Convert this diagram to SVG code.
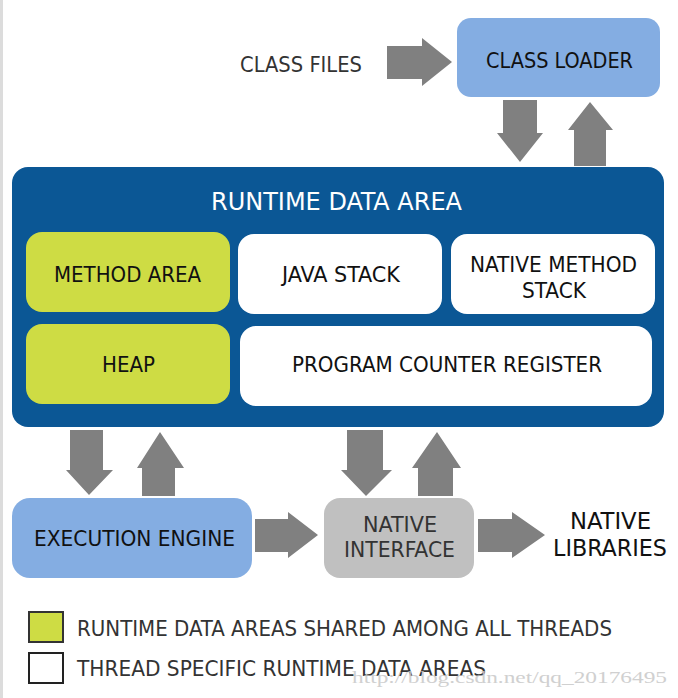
<svg xmlns="http://www.w3.org/2000/svg" width="678" height="698" viewBox="0 0 678 698">
<style>
text{font-family:"DejaVu Sans Condensed","DejaVu Sans",sans-serif;fill:#111}
.m{text-anchor:middle}
.arrow{fill:#808080}
</style>
<rect x="0" y="0" width="678" height="698" fill="#fff"/>
<rect x="0" y="0" width="3" height="698" fill="#dcdcdc"/>
<g id="connectors">
<polygon class="arrow" points="387,46 422,46 422,38 452,62 422,86 422,79 387,79"/>
<polygon class="arrow" points="503,100 537,100 537,133 543,133 520,162 497,133 503,133"/>
<polygon class="arrow" points="574,166 606,166 606,130 613,130 590,102 568,130 574,130"/>
<polygon class="arrow" points="70,430 103,430 103,470 113,470 89,495 66,470 70,470"/>
<polygon class="arrow" points="142,496 175,496 175,468 184,468 160,432 137,468 142,468"/>
<polygon class="arrow" points="347,430 383,430 383,470 392,470 366,496 341,470 347,470"/>
<polygon class="arrow" points="418,496 453,496 453,468 461,468 437,432 412,468 418,468"/>
<polygon class="arrow" points="255,519 288,519 288,512 318,535 288,558 288,552 255,552"/>
<polygon class="arrow" points="478,519 512,519 512,512 545,535 512,558 512,552 478,552"/>
</g>
<g id="class-files"><text class="m" x="301" y="72" font-size="21" fill="#333" textLength="122" lengthAdjust="spacingAndGlyphs" style="fill:#333">CLASS FILES</text></g>
<g id="class-loader">
<rect x="457" y="18" width="203" height="79" rx="14" fill="#84ade2"/>
<text class="m" x="559.5" y="68" font-size="21" textLength="147" lengthAdjust="spacingAndGlyphs">CLASS LOADER</text>
</g>
<g id="runtime-data-area">
<rect x="12" y="167" width="652" height="260" rx="16" fill="#0b5795"/>
<text class="m" x="336.5" y="210" font-size="25" textLength="251" lengthAdjust="spacingAndGlyphs" style="fill:#fff">RUNTIME DATA AREA</text>
</g>
<g id="method-area">
<rect x="26" y="232" width="204" height="80" rx="16" fill="#cedc44"/>
<text class="m" x="127.5" y="282" font-size="21" textLength="147" lengthAdjust="spacingAndGlyphs">METHOD AREA</text>
</g>
<g id="java-stack">
<rect x="238" y="234" width="204" height="80" rx="16" fill="#fff"/>
<text class="m" x="341" y="282" font-size="21" textLength="118" lengthAdjust="spacingAndGlyphs">JAVA STACK</text>
</g>
<g id="native-method-stack">
<rect x="451" y="234" width="204" height="80" rx="16" fill="#fff"/>
<text class="m" x="553.5" y="272" font-size="21" textLength="167" lengthAdjust="spacingAndGlyphs">NATIVE METHOD</text>
<text class="m" x="554" y="298" font-size="21" textLength="64" lengthAdjust="spacingAndGlyphs">STACK</text>
</g>
<g id="heap">
<rect x="26" y="324" width="204" height="80" rx="16" fill="#cedc44"/>
<text class="m" x="128.5" y="372" font-size="21" textLength="53" lengthAdjust="spacingAndGlyphs">HEAP</text>
</g>
<g id="program-counter-register">
<rect x="240" y="326" width="412" height="80" rx="16" fill="#fff"/>
<text class="m" x="447" y="372" font-size="21" textLength="310" lengthAdjust="spacingAndGlyphs">PROGRAM COUNTER REGISTER</text>
</g>
<g id="execution-engine">
<rect x="12" y="498" width="240" height="80" rx="18" fill="#84ade2"/>
<text class="m" x="134.5" y="546" font-size="21" textLength="201" lengthAdjust="spacingAndGlyphs">EXECUTION ENGINE</text>
</g>
<g id="native-interface">
<rect x="324" y="498" width="150" height="80" rx="16" fill="#c0c0c0"/>
<text class="m" x="400" y="532" font-size="21" textLength="74" lengthAdjust="spacingAndGlyphs" style="fill:#333">NATIVE</text>
<text class="m" x="399.5" y="557" font-size="21" textLength="111" lengthAdjust="spacingAndGlyphs" style="fill:#333">INTERFACE</text>
</g>
<g id="native-libraries">
<text class="m" x="610.5" y="529" font-size="23" textLength="81" lengthAdjust="spacingAndGlyphs">NATIVE</text>
<text class="m" x="610" y="556" font-size="23" textLength="114" lengthAdjust="spacingAndGlyphs">LIBRARIES</text>
</g>
<g id="legend">
<rect x="29" y="612" width="34" height="30" fill="#cedc44" stroke="#333" stroke-width="2"/>
<text x="77" y="636" font-size="21" textLength="535" lengthAdjust="spacingAndGlyphs" style="fill:#333">RUNTIME DATA AREAS SHARED AMONG ALL THREADS</text>
<rect x="29" y="653" width="34" height="30" fill="#fff" stroke="#222" stroke-width="2"/>
<text x="77" y="676" font-size="21" textLength="409" lengthAdjust="spacingAndGlyphs" style="fill:#333">THREAD SPECIFIC RUNTIME DATA AREAS</text>
</g>
<g id="watermark">
<text x="352" y="683" font-size="17" textLength="315" lengthAdjust="spacingAndGlyphs" style="font-family:'Liberation Serif',serif;fill:#c8c8c8;opacity:0.85">http://blog.csdn.net/qq_20176495</text>
</g>
</svg>
